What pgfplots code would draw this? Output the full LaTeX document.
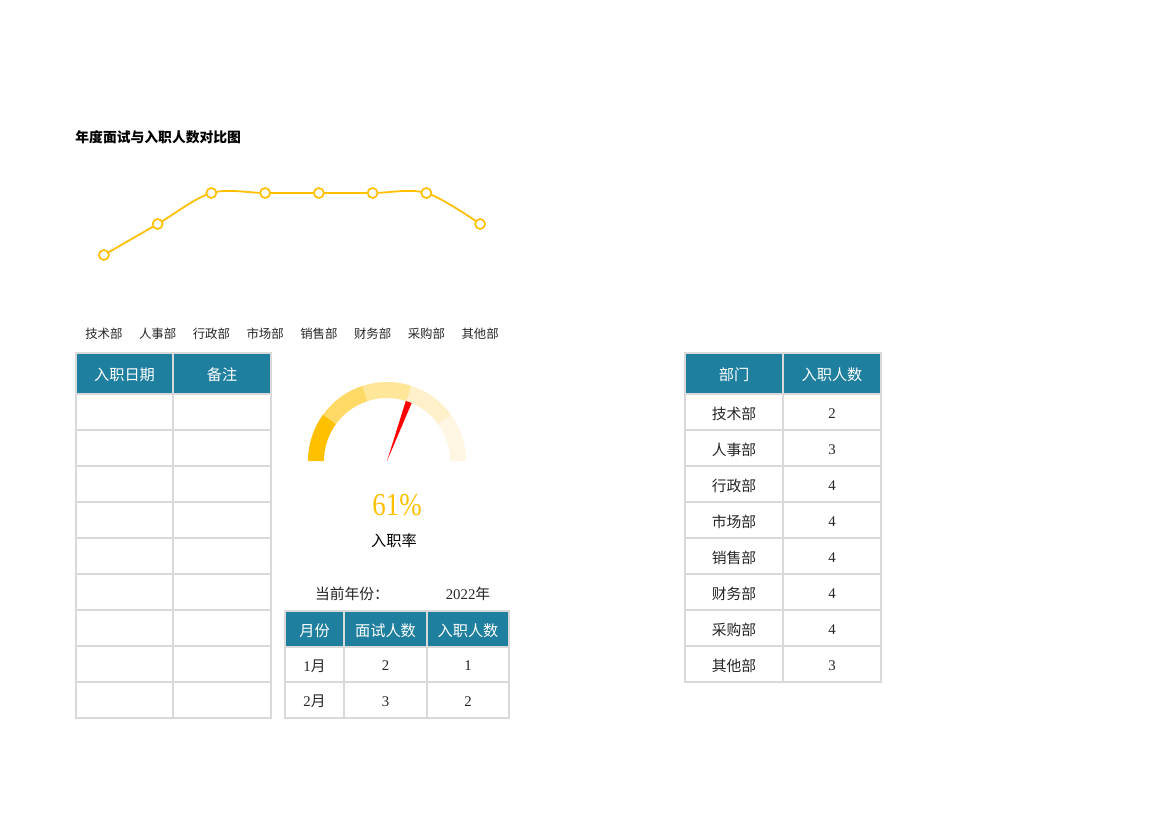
\documentclass[border=0pt]{standalone}
\usepackage{fontspec}
\usepackage{graphicx}
\usepackage{pgfplots}
\pgfplotsset{compat=1.18}
\setmainfont{Liberation Serif}
\newfontfamily\cjk{Noto Sans CJK SC}
\definecolor{gold}{HTML}{FFC000}
\definecolor{segA}{HTML}{FFC000}
\definecolor{segB}{HTML}{FFD966}
\definecolor{segC}{HTML}{FFE699}
\definecolor{segD}{HTML}{FFF0CC}
\definecolor{segE}{HTML}{FFF7E3}
\definecolor{teal}{HTML}{1F7F9E}
\definecolor{bgray}{HTML}{D9D9D9}
\definecolor{txt}{HTML}{262626}
\newcommand\cell[6]{%
  \path[fill=#5,draw=bgray,line width=0.6pt] (#1,#2) rectangle (#3,#4);
  \node[inner sep=0pt, yshift=-0.7pt] at ({(#1+#3)/2},{(#2+#4)/2}) {#6};}
\newcommand\hd[1]{\color{white}\cjk\fontsize{7.6}{9}\selectfont #1}
\newcommand\bd[1]{\color{txt}\cjk\fontsize{7.4}{9}\selectfont #1}
\newcommand\bn[1]{\color{txt}\fontsize{7.4}{9}\selectfont #1}
\begin{document}
\begin{tikzpicture}
\path[fill=white] (0,0) rectangle (585pt,413.5pt);
% line chart
\begin{axis}[at={(38.5pt,255pt)}, anchor=south west, scale only axis,
  width=215pt, height=77.5pt, xmin=0.5, xmax=8.5, ymin=0, ymax=5,
  axis line style={draw=none}, major tick length=0pt, ytick=\empty,
  xtick={1,2,3,4,5,6,7,8},
  xticklabels={技术部,人事部,行政部,市场部,销售部,财务部,采购部,其他部},
  xticklabel style={font=\cjk\fontsize{6.2}{7}\selectfont, text=txt, anchor=center, yshift=-8.3pt},
  clip=false]
\addplot[color=gold, line width=0.9pt, smooth, tension=0.55,
  mark=*, mark size=2.5pt, mark options={fill=white, draw=gold, line width=0.85pt}]
  coordinates {(1,2) (2,3) (3,4) (4,4) (5,4) (6,4) (7,4) (8,3)};
\end{axis}
% gauge
\begin{axis}[at={(154pt,183pt)}, anchor=south west, scale only axis,
  width=79pt, height=39.5pt, xmin=-1, xmax=1, ymin=0, ymax=1, hide axis, clip=false]
\fill[segA] (axis cs:0,0) ++(180:39.5pt) arc[start angle=180,end angle=144,radius=39.5pt] -- ++(144:-8pt) arc[start angle=144,end angle=180,radius=31.5pt] -- cycle;
\fill[segB] (axis cs:0,0) ++(144:39.5pt) arc[start angle=144,end angle=108,radius=39.5pt] -- ++(108:-8pt) arc[start angle=108,end angle=144,radius=31.5pt] -- cycle;
\fill[segC] (axis cs:0,0) ++(108:39.5pt) arc[start angle=108,end angle=72,radius=39.5pt] -- ++(72:-8pt) arc[start angle=72,end angle=108,radius=31.5pt] -- cycle;
\fill[segD] (axis cs:0,0) ++(72:39.5pt) arc[start angle=72,end angle=36,radius=39.5pt] -- ++(36:-8pt) arc[start angle=36,end angle=72,radius=31.5pt] -- cycle;
\fill[segE] (axis cs:0,0) ++(36:39.5pt) arc[start angle=36,end angle=0,radius=39.5pt] -- ++(0:-8pt) arc[start angle=0,end angle=36,radius=31.5pt] -- cycle;
\addplot[fill=red, draw=none] coordinates {(0,0) (0.312,0.733) (0.238,0.761) (0,0)};
\end{axis}
\begin{scope}[x=0.5pt, y=-0.5pt, shift={(0,413.5pt)}]
\node[anchor=west, inner sep=0pt] at (75,137) {\color{black}\cjk\bfseries\fontsize{6.9}{8}\selectfont 年度面试与入职人数对比图};
% left table
\cell{76}{353}{173}{394}{teal}{\hd{入职日期}}
\cell{173}{353}{271}{394}{teal}{\hd{备注}}
\foreach \r in {0,...,8}{
  \pgfmathsetmacro\ya{394+36*\r}\pgfmathsetmacro\yb{430+36*\r}
  \cell{76}{\ya}{173}{\yb}{white}{}
  \cell{173}{\ya}{271}{\yb}{white}{}
}
% gauge text
\node[inner sep=0pt] at (397,505) {\color{gold}\scalebox{0.84}[1]{\fontsize{16}{18}\selectfont 61\%}};
\node[inner sep=0pt] at (394,541) {\color{black}\cjk\fontsize{7.6}{9}\selectfont 入职率};
\node[inner sep=0pt] at (352,594) {\bd{当前年份：}};
\node[inner sep=0pt] at (468,594) {\color{txt}\fontsize{7.4}{9}\selectfont 2022{\cjk 年}};
% middle table
\cell{285}{611}{344}{647}{teal}{\hd{月份}}
\cell{344}{611}{427}{647}{teal}{\hd{面试人数}}
\cell{427}{611}{509}{647}{teal}{\hd{入职人数}}
\cell{285}{647}{344}{682}{white}{\bn{1{\cjk 月}}}
\cell{344}{647}{427}{682}{white}{\bn{2}}
\cell{427}{647}{509}{682}{white}{\bn{1}}
\cell{285}{682}{344}{718}{white}{\bn{2{\cjk 月}}}
\cell{344}{682}{427}{718}{white}{\bn{3}}
\cell{427}{682}{509}{718}{white}{\bn{2}}
% right table
\cell{685}{353}{783}{394}{teal}{\hd{部门}}
\cell{783}{353}{881}{394}{teal}{\hd{入职人数}}
\foreach \d/\v [count=\i from 0] in {技术部/2,人事部/3,行政部/4,市场部/4,销售部/4,财务部/4,采购部/4,其他部/3}{
  \pgfmathsetmacro\ya{394+36*\i}\pgfmathsetmacro\yb{430+36*\i}
  \cell{685}{\ya}{783}{\yb}{white}{\bd{\d}}
  \cell{783}{\ya}{881}{\yb}{white}{\bn{\v}}
}
\end{scope}
\end{tikzpicture}
\end{document}
